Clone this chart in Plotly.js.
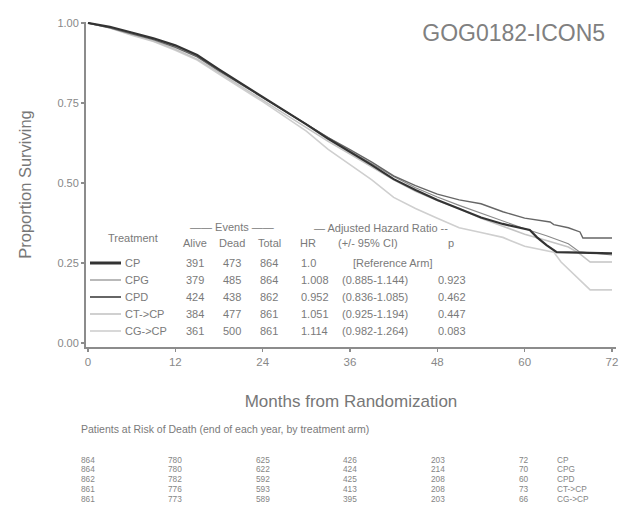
<!DOCTYPE html>
<html>
<head>
<meta charset="utf-8">
<script src="https://cdn.plot.ly/plotly-3.0.1.min.js"></script>
<style>body{margin:0;padding:0;background:#fff}#chart{width:620px;height:513px}</style>
</head>
<body>
<div id="chart"></div>
<script>
// ---- data ----
const chartTitle = "GOG0182-ICON5";
const arms = ["CP", "CPG", "CPD", "CT->CP", "CG->CP"];
const xTicks = [0, 12, 24, 36, 48, 60, 72];

const monthsCP  = [0,3,6,9,12,15,18,21,24,27,30,33,36,39,42,45,48,51,54,57,60.7,61.7,63,64.4,72];
const survCP    = [1,0.988,0.97,0.952,0.93,0.9,0.855,0.812,0.77,0.727,0.683,0.638,0.598,0.556,0.512,0.478,0.447,0.42,0.392,0.372,0.353,0.33,0.306,0.284,0.28];

const monthsCPG = [0,3,6,9,12,15,18,21,24,27,30,33,36,39,42,45,48,51,54,57,60,63,66,67.5,72];
const survCPG   = [1,0.986,0.968,0.95,0.927,0.897,0.852,0.81,0.768,0.725,0.682,0.64,0.6,0.56,0.52,0.485,0.456,0.43,0.405,0.38,0.357,0.335,0.31,0.285,0.275];

const monthsCPD = [0,3,6,9,12,15,18,21,24,27,30,33,36,39,42,45,48,51,54,57,60,63.5,64,66,67.6,68,72];
const survCPD   = [1,0.985,0.966,0.948,0.924,0.894,0.85,0.808,0.766,0.724,0.682,0.642,0.604,0.565,0.522,0.492,0.465,0.447,0.435,0.41,0.39,0.378,0.37,0.36,0.347,0.328,0.328];

const monthsCT  = [0,3,6,9,12,15,18,21,24,27,30,33,36,39,42,45,48,51,54,57,60,63,66,67.5,69,72];
const survCT    = [1,0.985,0.964,0.944,0.918,0.887,0.845,0.802,0.76,0.716,0.672,0.63,0.59,0.55,0.51,0.474,0.445,0.42,0.39,0.365,0.34,0.32,0.3,0.28,0.253,0.253];

const monthsCG  = [0,3,6,9,12,15,18,21,24,27,30,33,36,39,42,45,48,51,54,57,60,64,65,66.5,67.5,69,72];
const survCG    = [1,0.984,0.962,0.942,0.915,0.884,0.84,0.798,0.754,0.708,0.662,0.605,0.557,0.51,0.455,0.42,0.39,0.36,0.345,0.33,0.302,0.284,0.253,0.22,0.197,0.166,0.166];

const alive  = ["391", "379", "424", "384", "361"];
const dead   = ["473", "485", "438", "477", "500"];
const total  = ["864", "864", "862", "861", "861"];
const hr     = ["1.0", "1.008", "0.952", "1.051", "1.114"];
const ci     = ["[Reference Arm]", "(0.885-1.144)", "(0.836-1.085)", "(0.925-1.194)", "(0.982-1.264)"];
const pval   = ["", "0.923", "0.462", "0.447", "0.083"];

const riskCP  = [864, 780, 625, 426, 203, 72];
const riskCPG = [864, 780, 622, 424, 214, 70];
const riskCPD = [862, 782, 592, 425, 208, 60];
const riskCT  = [861, 776, 593, 413, 208, 73];
const riskCG  = [861, 773, 589, 395, 203, 66];

// ---- styles ----
const lineColors = ["#333333", "#8a8a8a", "#666666", "#c4c4c4", "#cfcfcf"];
const lineWidths = [2.2, 1.1, 1.4, 1.6, 1.6];
const sampleWidths = [3, 1.2, 2, 1.6, 1.6];
const textColor = "#7a7a7a";
const FONT = "Liberation Sans, Arial, sans-serif";

const series = [[monthsCP, survCP],[monthsCPG, survCPG],[monthsCPD, survCPD],[monthsCT, survCT],[monthsCG, survCG]];
const drawOrder = [4, 3, 1, 2, 0];
const traces = drawOrder.map(i => ({
  x: series[i][0], y: series[i][1], name: arms[i], type: "scatter", mode: "lines",
  line: {color: lineColors[i], width: lineWidths[i], shape: "linear"}, showlegend: false, hoverinfo: "skip"
}));

// pixel -> paper helpers (plot area 86..616 x, 22..347 y)
const L = 86, R = 616, T = 22, B = 347;
const px = x => (x - L) / (R - L);
const py = y => (B - y) / (B - T);

const ann = [];
function txt(text, x, y, anchor, size, color) {
  ann.push({text: text, xref: "paper", yref: "paper", x: px(x), y: py(y),
    xanchor: anchor || "left", yanchor: "middle", showarrow: false, borderpad: 0,
    font: {family: FONT, size: size || 10, color: color || textColor}});
}
const LF = 11;
// legend table headers
txt("Treatment", 133, 238, "center", LF);
txt("—— Events ——", 232, 227, "center", LF);
txt("Alive", 195, 243, "center", LF);
txt("Dead", 232, 243, "center", LF);
txt("Total", 269, 243, "center", LF);
txt("— Adjusted Hazard Ratio --", 381, 228, "center", LF);
txt("HR", 308, 243, "center", LF);
txt("(+/- 95% CI)", 368, 243, "center", LF);
txt("p", 451, 243, "center", LF);

const rowY = [263, 280, 297, 314, 331];
const shapes = [];
arms.forEach((a, i) => {
  const y = rowY[i];
  shapes.push({type: "line", xref: "paper", yref: "paper", x0: px(90), x1: px(121), y0: py(y), y1: py(y),
    line: {color: lineColors[i], width: sampleWidths[i]}});
  txt(a, 124, y, "left", LF);
  txt(alive[i], 195, y, "center", LF);
  txt(dead[i], 232, y, "center", LF);
  txt(total[i], 269, y, "center", LF);
  txt(hr[i], 300, y, "left", LF);
  if (i === 0) txt(ci[i], 392, y, "center", LF);
  else txt(ci[i], 375, y, "center", LF);
  if (pval[i]) txt(pval[i], 452, y, "center", LF);
});

// risk table
txt("Patients at Risk of Death (end of each year, by treatment arm)", 80, 429, "left", 10.5);
const risks = [riskCP, riskCPG, riskCPD, riskCT, riskCG];
const riskX = [80, 167, 255, 342, 430, 518];
const riskY = [459.5, 469.3, 479.1, 488.9, 498.7];
const RF = 8.3;
risks.forEach((r, i) => {
  r.forEach((v, j) => txt(String(v), riskX[j], riskY[i], "left", RF, "#858585"));
  txt(arms[i], 556, riskY[i], "left", RF, "#858585");
});

const layout = {
  width: 620, height: 513,
  margin: {l: L, r: 620 - R, t: T, b: 513 - B, pad: 0},
  paper_bgcolor: "#fff", plot_bgcolor: "#fff",
  font: {family: FONT, color: textColor},
  title: {text: chartTitle, xref: "container", yref: "container", x: 0.976, xanchor: "right",
    y: 1 - 33 / 513, yanchor: "middle", font: {family: FONT, size: 23, color: "#808080"}},
  xaxis: {range: [-0.275, 72.55], tickvals: xTicks, ticktext: xTicks.map(String),
    showgrid: false, zeroline: false, showline: true, linecolor: "#8c8c8c", linewidth: 2,
    ticks: "outside", ticklen: 3, tickcolor: "#8c8c8c", tickwidth: 1.5,
    tickfont: {family: FONT, size: 11.5, color: "#888"},
    title: {text: "Months from Randomization", standoff: 28, font: {family: FONT, size: 17, color: "#777"}}},
  yaxis: {range: [-0.0125, 1.003], tickvals: [0, 0.25, 0.5, 0.75, 1], tickformat: ".2f",
    showgrid: false, zeroline: false, showline: true, linecolor: "#8c8c8c", linewidth: 2,
    ticks: "outside", ticklen: 3, tickcolor: "#8c8c8c", tickwidth: 1.5,
    tickfont: {family: FONT, size: 11, color: "#888"},
    title: {text: "Proportion Surviving", standoff: 22, font: {family: FONT, size: 16.5, color: "#777"}}},
  annotations: ann,
  shapes: shapes,
  showlegend: false
};

Plotly.newPlot("chart", traces, layout, {staticPlot: true, displayModeBar: false});
</script>
</body>
</html>
